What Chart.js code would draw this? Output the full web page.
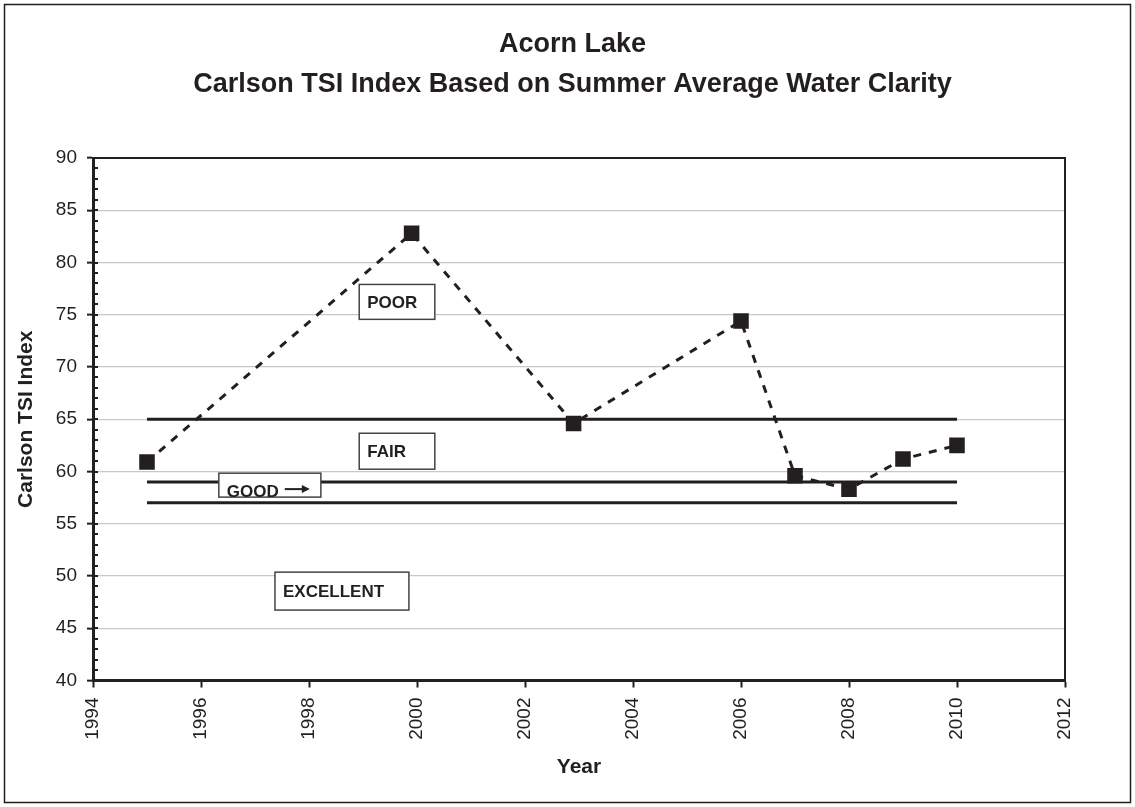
<!DOCTYPE html>
<html>
<head>
<meta charset="utf-8">
<script src="https://cdn.jsdelivr.net/npm/chart.js@4"></script>
<style>
  body { margin: 0; background: #fff; }
  #wrap { width: 1135px; height: 807px; }
</style>
</head>
<body>
<div id="wrap"><canvas id="tsiChart" width="1135" height="807"></canvas></div>
<script>
// data
const years = [1995, 1999.9, 2002.9, 2006, 2007, 2008, 2009, 2010];
const tsi = [60.9, 82.8, 64.6, 74.4, 59.6, 58.3, 61.2, 62.5];
const boundaries = [65, 59, 57];
const boundarySpan = [1995, 2010];
const xTicks = [1994, 1996, 1998, 2000, 2002, 2004, 2006, 2008, 2010, 2012];
const yTicks = [40, 45, 50, 55, 60, 65, 70, 75, 80, 85, 90];
const zoneLabels = ["POOR", "FAIR", "GOOD", "EXCELLENT"];

const INK = "#231f20";
const FONT = "'Liberation Sans', Arial, sans-serif";

// label boxes, in axis units
const zoneBoxes = [
  { x0: 1998.93, x1: 2000.33, y0: 77.9, y1: 74.56 },
  { x0: 1998.93, x1: 2000.33, y0: 63.66, y1: 60.22 },
  { x0: 1996.33, x1: 1998.22, y0: 59.84, y1: 57.55, arrow: true },
  { x0: 1997.37, x1: 1999.85, y0: 50.37, y1: 46.74 },
];

const datasets = [
  {
    label: "TSI",
    data: years.map((y, i) => ({ x: y, y: tsi[i] })),
    borderColor: INK,
    backgroundColor: INK,
    borderWidth: 3,
    borderDash: [8, 8],
    pointStyle: "rect",
    pointRadius: 11,
    pointBorderWidth: 0,
    tension: 0,
  },
];
boundaries.forEach((v) => {
  datasets.push({
    label: "limit " + v,
    data: boundarySpan.map((x) => ({ x: x, y: v })),
    borderColor: INK,
    borderWidth: 3,
    pointRadius: 0,
  });
});

const decor = {
  id: "decor",
  beforeDraw(chart) {
    const ctx = chart.ctx;
    ctx.save();
    ctx.fillStyle = "#fff";
    ctx.fillRect(0, 0, chart.width, chart.height);
    ctx.strokeStyle = INK;
    ctx.lineWidth = 1.5;
    ctx.strokeRect(4.5, 4.5, 1126, 798);
    ctx.restore();
  },
  afterDatasetsDraw(chart) {
    const ctx = chart.ctx;
    const xs = chart.scales.x, ys = chart.scales.y;
    ctx.save();
    zoneBoxes.forEach((b, i) => {
      const l = xs.getPixelForValue(b.x0), r = xs.getPixelForValue(b.x1);
      const t = ys.getPixelForValue(b.y0), btm = ys.getPixelForValue(b.y1);
      ctx.fillStyle = "#fff";
      ctx.fillRect(l, t, r - l, btm - t);
      ctx.strokeStyle = "#444";
      ctx.lineWidth = 1.5;
      ctx.strokeRect(l, t, r - l, btm - t);
      ctx.fillStyle = INK;
      ctx.font = "bold 17px " + FONT;
      ctx.textBaseline = "middle";
      ctx.textAlign = "left";
      if (b.arrow) {
        ctx.fillText(zoneLabels[i], l + 8, btm - 5);
        const ay = btm - 8;
        ctx.strokeStyle = INK;
        ctx.lineWidth = 2;
        ctx.beginPath();
        ctx.moveTo(l + 66, ay);
        ctx.lineTo(l + 86, ay);
        ctx.stroke();
        ctx.beginPath();
        ctx.moveTo(l + 91, ay);
        ctx.lineTo(l + 83, ay - 4);
        ctx.lineTo(l + 83, ay + 4);
        ctx.closePath();
        ctx.fill();
      } else {
        ctx.fillText(zoneLabels[i], l + 8, (t + btm) / 2 + 1);
      }
    });
    ctx.restore();
  },
  afterDraw(chart) {
    const ctx = chart.ctx;
    const a = chart.chartArea;
    const ys = chart.scales.y;
    ctx.save();
    ctx.strokeStyle = INK;
    ctx.lineWidth = 2;
    ctx.beginPath();
    ctx.moveTo(a.left, a.top);
    ctx.lineTo(a.right, a.top);
    ctx.lineTo(a.right, a.bottom);
    ctx.stroke();
    // minor ticks on the value axis
    ctx.lineWidth = 2;
    for (let v = ys.min; v <= ys.max; v++) {
      const py = Math.round(ys.getPixelForValue(v));
      ctx.beginPath();
      ctx.moveTo(a.left, py);
      ctx.lineTo(a.left + 5, py);
      ctx.stroke();
    }
    ctx.restore();
  },
};

new Chart(document.getElementById("tsiChart"), {
  type: "line",
  data: { datasets },
  plugins: [decor],
  options: {
    responsive: false,
    animation: false,
    events: [],
    layout: { padding: { top: 10, left: 10, right: 0, bottom: 10 } },
    scales: {
      x: {
        type: "linear",
        min: 1994,
        max: 2012,
        afterBuildTicks: (s) => { s.ticks = xTicks.map((v) => ({ value: v })); },
        afterFit: (s) => { s.height = 116.5; },
        border: { color: INK, width: 3 },
        grid: { drawOnChartArea: false, drawTicks: true, tickLength: 7, tickWidth: 2, tickColor: INK },
        ticks: {
          minRotation: 90,
          maxRotation: 90,
          padding: 10,
          color: INK,
          font: { family: FONT, size: 19 },
          callback: (v) => String(v),
        },
        title: {
          display: true,
          text: "Year",
          color: INK,
          font: { family: FONT, size: 21, weight: "bold" },
          padding: { top: 0, bottom: 17 },
        },
      },
      y: {
        min: 40,
        max: 90,
        afterBuildTicks: (s) => { s.ticks = yTicks.map((v) => ({ value: v })); },
        afterFit: (s) => { s.width = 83; },
        border: { color: INK, width: 3 },
        grid: { color: "#c8c8c8", lineWidth: 1.3, drawTicks: true, tickLength: 6, tickWidth: 2, tickColor: INK },
        ticks: {
          padding: 10,
          color: INK,
          font: { family: FONT, size: 19 },
        },
        title: {
          display: true,
          text: "Carlson TSI Index",
          color: INK,
          font: { family: FONT, size: 21, weight: "bold" },
          padding: { top: 4, bottom: 0 },
        },
      },
      yR: {
        position: "right",
        min: 40,
        max: 90,
        afterFit: (s) => { s.width = 70; },
        border: { display: false },
        grid: { drawOnChartArea: false, drawTicks: false },
        ticks: { display: false },
      },
    },
    plugins: {
      legend: { display: false },
      tooltip: { enabled: false },
      title: {
        display: true,
        text: ["Acorn Lake", "Carlson TSI Index Based on Summer Average Water Clarity"],
        color: INK,
        font: { family: FONT, size: 27, weight: "bold", lineHeight: 40 / 27 },
        padding: { top: 15, bottom: 53 },
      },
    },
  },
});
</script>
</body>
</html>
